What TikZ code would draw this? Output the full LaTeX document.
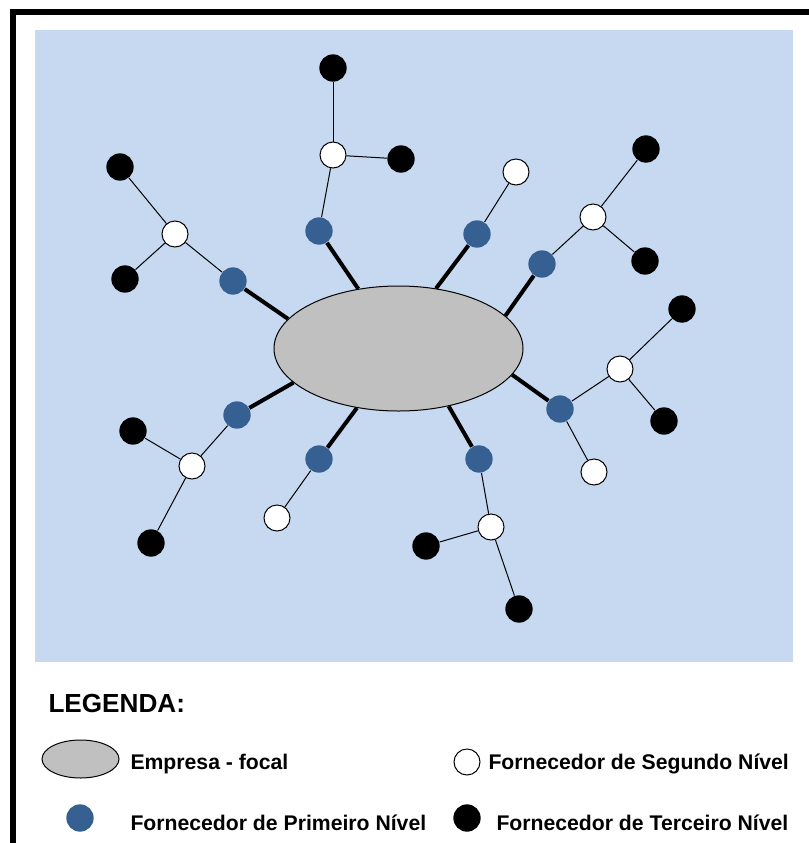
\documentclass[tikz,border=0pt]{standalone}
\usepackage{fontspec}
\setmainfont{Liberation Sans}
\usetikzlibrary{shapes.geometric}

\definecolor{fundo}{RGB}{198,217,241}
\definecolor{azulnivel}{RGB}{54,96,146}
\definecolor{cinzafocal}{RGB}{192,192,192}

\tikzset{every picture/.style={line width=0.75pt}}
\tikzset{
  focal/.style={ellipse,draw=black,fill=cinzafocal,inner sep=0pt,line width=0.75pt},
  nivelum/.style={circle,fill=azulnivel,inner sep=0pt,minimum size=20.5pt},
  niveldois/.style={circle,draw=black,fill=white,inner sep=0pt,minimum size=19.5pt,line width=0.75pt},
  niveltres/.style={circle,fill=black,inner sep=0pt,minimum size=20.5pt},
  ligaforte/.style={line width=3pt},
  ligafraca/.style={line width=0.75pt},
  legtexto/.style={anchor=west,inner sep=0pt,font=\bfseries\fontsize{15.9}{18}\selectfont}
}

\begin{document}
\begin{tikzpicture}[x=0.75pt,y=0.75pt,yscale=-1,xscale=1]
\useasboundingbox (0,0) rectangle (808,843);

%Shape: Frame
\draw [line width=4.2pt] (13,860) -- (13,12) -- (830,12) ;
%Shape: Rectangle
\fill [fundo] (35,30) rectangle (793,662) ;

%Empresa focal
\node [focal,minimum width=186.75pt,minimum height=93.75pt] (emp) at (398.5,348.5) {};

%Primeiro nivel
\node [nivelum] (p1) at (233,281) {};
\node [nivelum] (p2) at (319,231) {};
\node [nivelum] (p3) at (477,234) {};
\node [nivelum] (p4) at (542,264) {};
\node [nivelum] (p5) at (560,409) {};
\node [nivelum] (p6) at (479,459) {};
\node [nivelum] (p7) at (319,459) {};
\node [nivelum] (p8) at (237,415) {};

%Segundo nivel
\node [niveldois] (s1) at (175,234) {};
\node [niveldois] (s2) at (333,155) {};
\node [niveldois] (s3) at (516,172) {};
\node [niveldois] (s4) at (593,217) {};
\node [niveldois] (s5) at (620,369) {};
\node [niveldois] (s6) at (594,472) {};
\node [niveldois] (s7) at (491,527) {};
\node [niveldois] (s8) at (277,518) {};
\node [niveldois] (s9) at (192,466) {};

%Terceiro nivel
\node [niveltres] (t1) at (120,167) {};
\node [niveltres] (t2) at (125,279) {};
\node [niveltres] (t3) at (333,68) {};
\node [niveltres] (t4) at (401,159) {};
\node [niveltres] (t5) at (646,149) {};
\node [niveltres] (t6) at (645,261) {};
\node [niveltres] (t7) at (682,309) {};
\node [niveltres] (t8) at (664,421) {};
\node [niveltres] (t9) at (426,546) {};
\node [niveltres] (t10) at (519,609) {};
\node [niveltres] (t11) at (133,431) {};
\node [niveltres] (t12) at (151,543) {};

%Ligacoes fortes
\draw [ligaforte] (emp.165) -- (p1) ;
\draw [ligaforte] (emp.124) -- (p2) ;
\draw [ligaforte] (emp.58) -- (p3) ;
\draw [ligaforte] (emp.17) -- (p4) ;
\draw [ligaforte] (emp.-13) -- (p5) ;
\draw [ligaforte] (emp.-49) -- (p6) ;
\draw [ligaforte] (emp.-125) -- (p7) ;
\draw [ligaforte] (emp.-162) -- (p8) ;

%Ligacoes fracas
\draw [ligafraca] (p1) -- (s1) ;
\draw [ligafraca] (p2) -- (s2) ;
\draw [ligafraca] (p3) -- (s3) ;
\draw [ligafraca] (p4) -- (s4) ;
\draw [ligafraca] (p5) -- (s5) ;
\draw [ligafraca] (p5) -- (s6) ;
\draw [ligafraca] (p6) -- (s7) ;
\draw [ligafraca] (p7) -- (s8) ;
\draw [ligafraca] (p8) -- (s9) ;
\draw [ligafraca] (s1) -- (t1) ;
\draw [ligafraca] (s1) -- (t2) ;
\draw [ligafraca] (s2) -- (t3) ;
\draw [ligafraca] (s2) -- (t4) ;
\draw [ligafraca] (s4) -- (t5) ;
\draw [ligafraca] (s4) -- (t6) ;
\draw [ligafraca] (s5) -- (t7) ;
\draw [ligafraca] (s5) -- (t8) ;
\draw [ligafraca] (s7) -- (t9) ;
\draw [ligafraca] (s7) -- (t10) ;
\draw [ligafraca] (s9) -- (t11) ;
\draw [ligafraca] (s9) -- (t12) ;

% Text Node
\node [anchor=west,inner sep=0pt,font=\bfseries\fontsize{19.6}{22}\selectfont] (leg) at (48,703) {LEGENDA:};

%Legenda
\node [focal,minimum width=57.75pt,minimum height=28.5pt] (legemp) at (80.5,759) {};
\node [nivelum] (legum) at (80,818) {};
\node [niveldois] (legdois) at (467,762) {};
\node [niveltres] (legtres) at (467,818) {};

% Text Node
\node [legtexto] (txemp) at (130,764.5) {Empresa - focal};
% Text Node
\node [legtexto] (txum) at (130,823) {Fornecedor de Primeiro Nível};
% Text Node
\node [legtexto] (txdois) at (488,764) {Fornecedor de Segundo Nível};
% Text Node
\node [legtexto] (txtres) at (496,822.5) {Fornecedor de Terceiro Nível};

\end{tikzpicture}
\end{document}
